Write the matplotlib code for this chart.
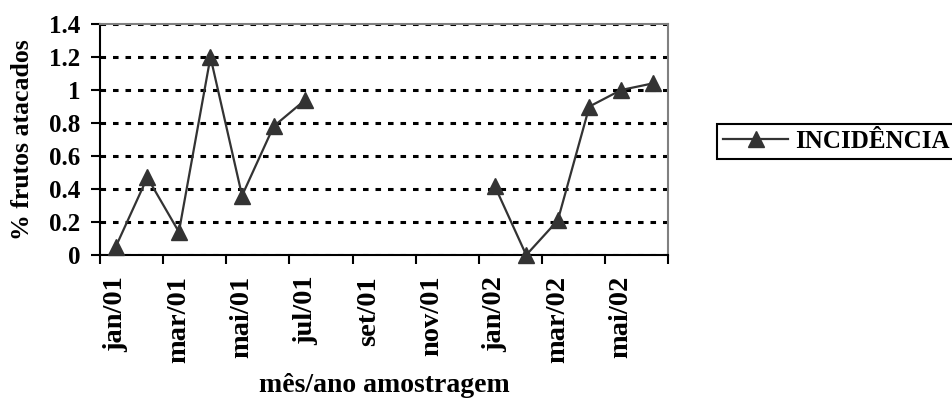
import numpy as np
import matplotlib
matplotlib.use('Agg')
import matplotlib.pyplot as plt

# incidence of attacked fruits, monthly samples jan/01 - jun/02 (no samples ago/01 - dez/01)
meses = ['jan/01', 'fev/01', 'mar/01', 'abr/01', 'mai/01', 'jun/01', 'jul/01',
         'ago/01', 'set/01', 'out/01', 'nov/01', 'dez/01',
         'jan/02', 'fev/02', 'mar/02', 'abr/02', 'mai/02', 'jun/02']
incidencia = [0.05, 0.47, 0.14, 1.20, 0.36, 0.78, 0.94,
              np.nan, np.nan, np.nan, np.nan, np.nan,
              0.42, 0.00, 0.21, 0.90, 1.00, 1.04]
rotulos_x = ['jan/01', 'mar/01', 'mai/01', 'jul/01', 'set/01', 'nov/01',
             'jan/02', 'mar/02', 'mai/02']
valores_y = [0, 0.2, 0.4, 0.6, 0.8, 1, 1.2, 1.4]
rotulos_y = ['0', '0.2', '0.4', '0.6', '0.8', '1', '1.2', '1.4']

plt.rcParams['font.family'] = ['Liberation Serif', 'DejaVu Serif']
plt.rcParams['font.weight'] = 'bold'
plt.rcParams['lines.scale_dashes'] = False

fig = plt.figure(figsize=(9.52, 4.01), dpi=100)
ax = fig.add_axes([0.105, 0.364, 0.597, 0.576])

x = np.arange(len(meses)) + 0.5
cor = '#333333'
ax.plot(x, incidencia, color=cor, linewidth=1.6, marker='^', markersize=11.5,
        markerfacecolor=cor, markeredgecolor=cor, label='INCIDÊNCIA',
        clip_on=False, zorder=5)

ax.set_xlim(0, len(meses))
ax.set_ylim(0, 1.4)

# y axis
ax.set_yticks(valores_y)
ax.set_yticklabels(rotulos_y, fontsize=18, fontweight='bold')
ax.tick_params(axis='y', direction='out', length=6.5, width=1.5, pad=7.5)

# x axis: ticks every two months, labels centred on the month
ax.set_xticks(np.arange(0, len(meses) + 1, 2))
ax.set_xticklabels([])
ax.set_xticks(np.arange(0, len(meses) - 1, 2) + 0.5, minor=True)
ax.set_xticklabels(rotulos_x, minor=True, rotation=90, fontsize=20.5,
                   fontweight='bold')
ax.tick_params(axis='x', which='major', direction='out', length=6.5, width=1.5)
ax.tick_params(axis='x', which='minor', length=0, pad=15)

ax.grid(axis='y', color='black', linestyle=(0, (4, 5)), linewidth=2.2)
ax.set_axisbelow(True)

for lado in ['left', 'bottom']:
    ax.spines[lado].set_color('black')
    ax.spines[lado].set_linewidth(1.5)
for lado in ['top', 'right']:
    ax.spines[lado].set_color('#808080')
    ax.spines[lado].set_linewidth(1.5)

ax.set_ylabel('% frutos atacados', fontsize=18.5, fontweight='bold')
ax.yaxis.set_label_coords(-0.136, 0.5)
ax.yaxis.label.set_va('center')
ax.set_xlabel('mês/ano amostragem', fontsize=20, fontweight='bold')
ax.xaxis.set_label_coords(0.5, -0.567)
ax.xaxis.label.set_va('center')

leg = fig.legend(loc='lower left', bbox_to_anchor=(0.753, 0.603),
                 borderaxespad=0, fancybox=False, edgecolor='black',
                 framealpha=1, prop={'size': 18, 'weight': 'bold'},
                 handlelength=2.6, handletextpad=0.3, borderpad=0.25)
leg.get_frame().set_linewidth(1.5)

plt.savefig('out.png', dpi=100)
